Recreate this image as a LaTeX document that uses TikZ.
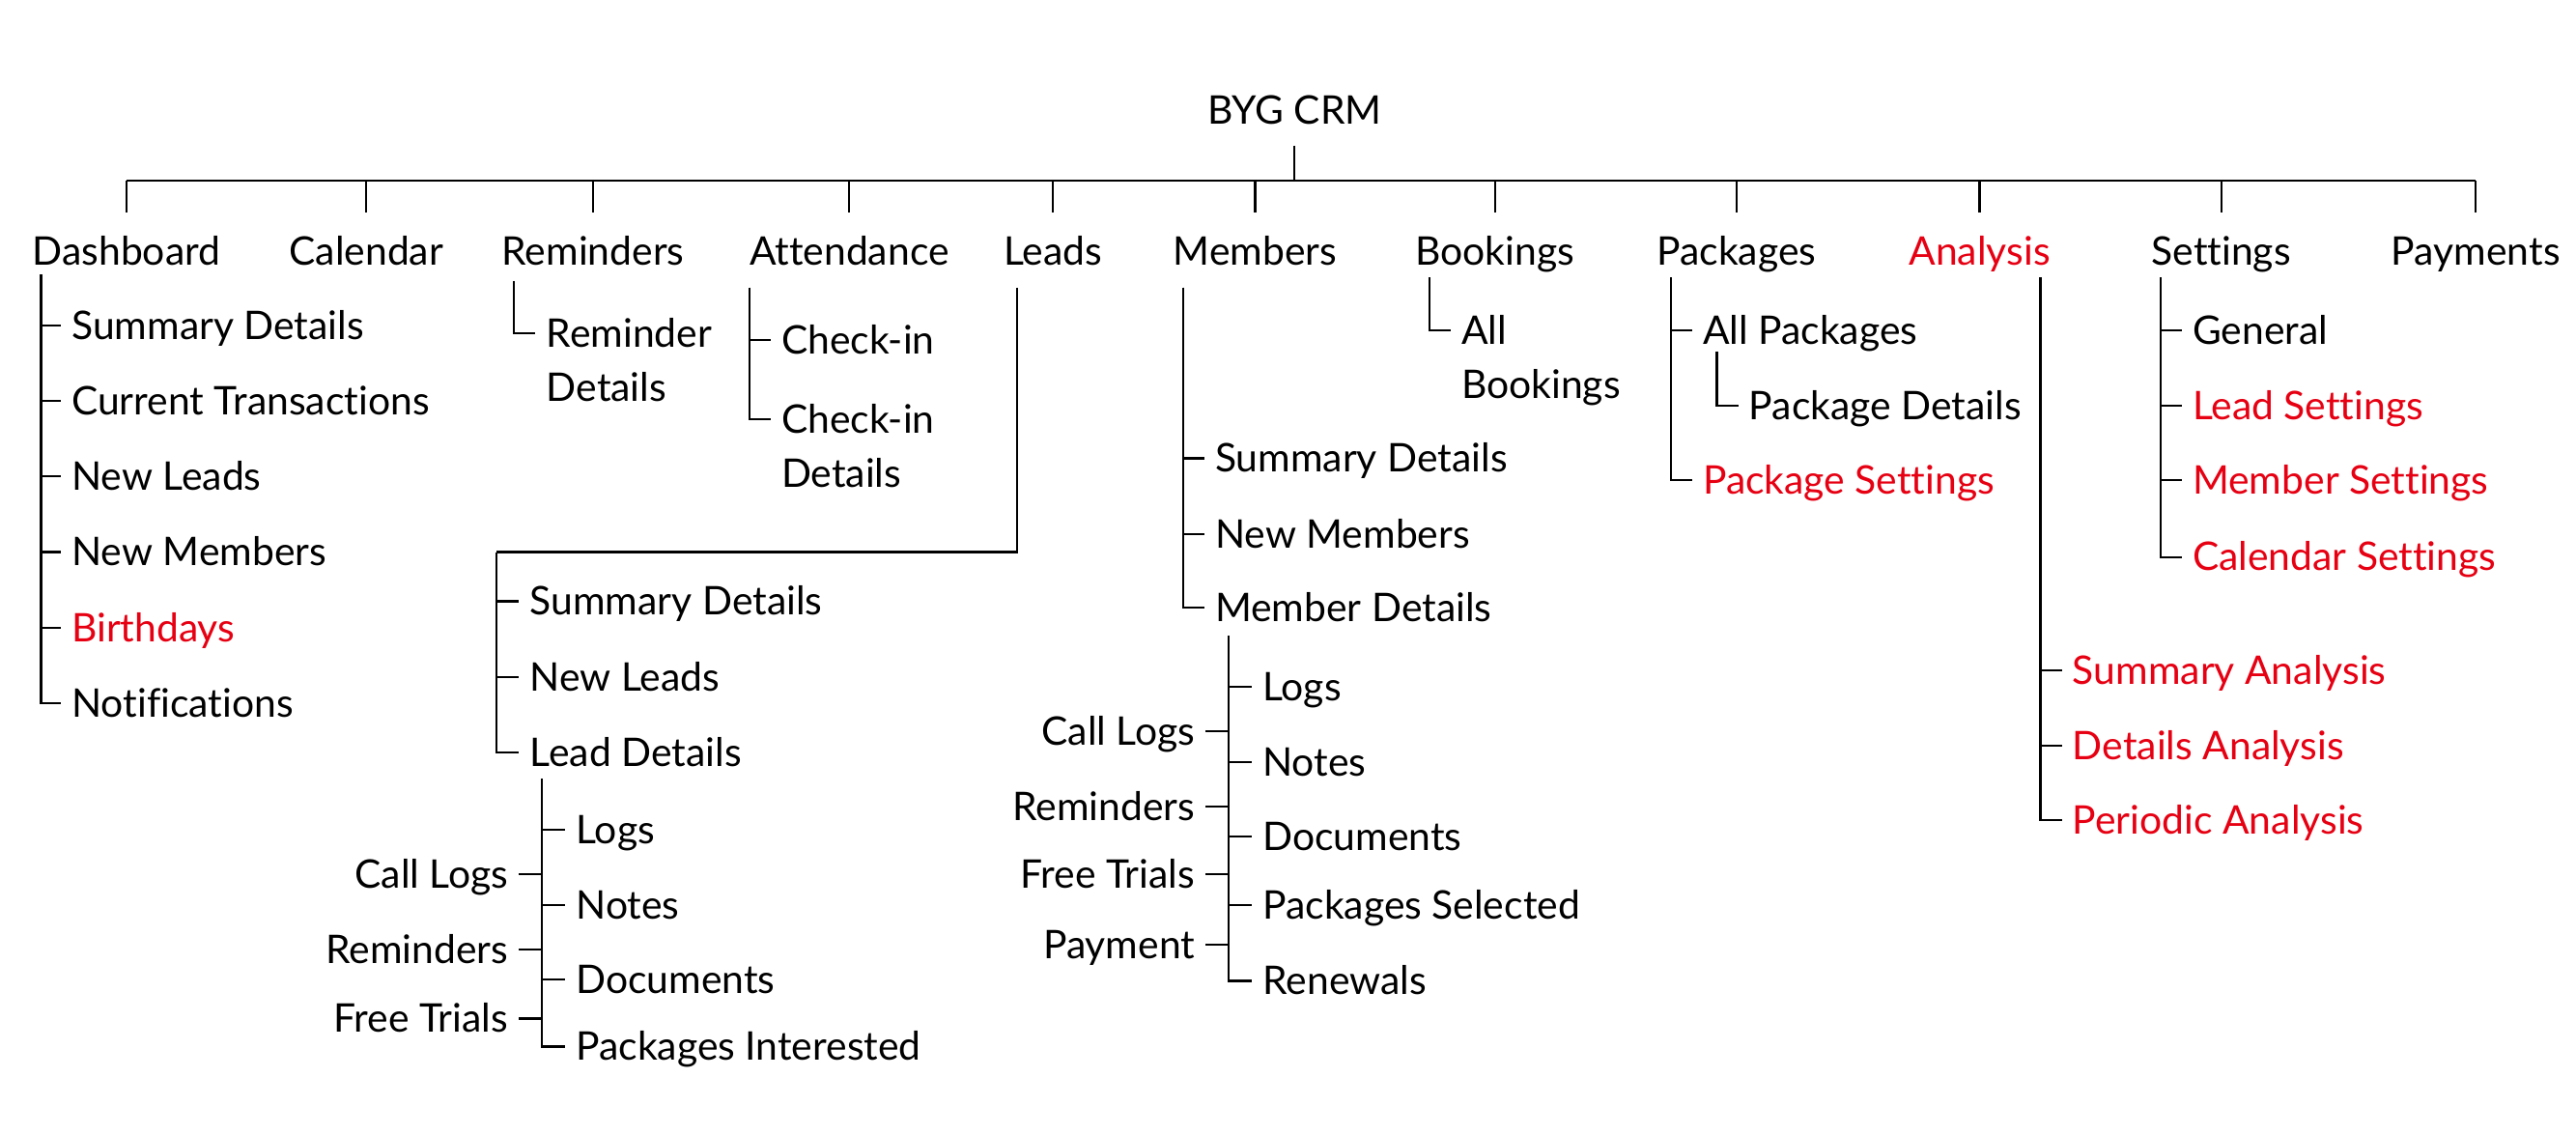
\documentclass[tikz,border=0pt]{standalone}
\usepackage{fontspec}
\setmainfont{Lato}[Ligatures=NoCommon]
\usetikzlibrary{calc}
\definecolor{crmred}{RGB}{230,0,18}
\newcommand{\lbl}{\fontsize{24pt}{33pt}\selectfont}
\newcommand{\twoline}[2]{\begin{tabular}[t]{@{}l@{}}#1\\#2\end{tabular}}
\tikzset{
  menu/.style={font=\lbl, text height=16.9pt, text depth=0pt, inner xsep=0pt, inner ysep=14.6pt},
  leaf/.style={font=\lbl, anchor=west, text height=16.9pt, text depth=0pt, inner xsep=6pt, inner ysep=0pt},
  leftleaf/.style={leaf, anchor=east},
  pending/.style={text=crmred},
  link/.style={line width=1.3pt},
}

\begin{document}
\begin{tikzpicture}[x=1pt,y=-1pt,link]
\useasboundingbox (0,0) rectangle (1568,690.2);

% root and main menu
\node[menu, inner ysep=12.5pt] (root) at (788,67) {BYG CRM};
\coordinate (bus) at (788,110);
\node[menu] (dash) at (77,153) {Dashboard};
\node[menu] (cal) at (223,153) {Calendar};
\node[menu] (rem) at (361,153) {Reminders};
\node[menu] (att) at (517,153) {Attendance};
\node[menu] (lead) at (641,153) {Leads};
\node[menu] (mem) at (764,153) {Members};
\node[menu] (book) at (910,153) {Bookings};
\node[menu] (pack) at (1057,153) {Packages};
\node[menu,pending] (ana) at (1205,153) {Analysis};
\node[menu] (set) at (1352,153) {Settings};
\node[menu] (pay) at (1507,153) {Payments};

\draw (root.south) -- (root |- bus);
\draw (dash |- bus) -- (pay |- bus);
\foreach \n in {dash,cal,rem,att,lead,mem,book,pack,ana,set,pay}
  \draw (\n |- bus) -- (\n.north);

% dashboard
\coordinate (dbs) at (25,167);
\node[leaf] (db1) at (37,198) {Summary Details};
\node[leaf] (db2) at (37,244) {Current Transactions};
\node[leaf] (db3) at (37,290) {New Leads};
\node[leaf] (db4) at (37,336) {New Members};
\node[leaf,pending] (db5) at (37,382) {Birthdays};
\node[leaf] (db6) at (37,428) {Notifications};
\foreach \c in {db1,db2,db3,db4,db5,db6}
  \draw (dbs) |- (\c.west);

% reminders
\coordinate (rms) at (313,171);
\node[leaf] (rm1) at (326,203) {\twoline{Reminder}{Details}};
\draw (rms) |- (rm1.west);

% attendance
\coordinate (ats) at (456,175);
\node[leaf] (at1) at (469,207) {Check-in};
\node[leaf] (at2) at (469,255) {\twoline{Check-in}{Details}};
\foreach \c in {at1,at2}
  \draw (ats) |- (\c.west);

% leads
\coordinate (lds) at (619,175);
\coordinate (ldj) at (302,336);
\draw (lds) |- (ldj);
\node[leaf] (ld1) at (316,366) {Summary Details};
\node[leaf] (ld2) at (316,412) {New Leads};
\node[leaf] (ld3) at (316,458) {Lead Details};
\foreach \c in {ld1,ld2,ld3}
  \draw (ldj) |- (\c.west);

% lead details
\coordinate (lls) at (330,474);
\node[leaf] (ll1) at (344,505) {Logs};
\node[leaf] (ll2) at (344,551) {Notes};
\node[leaf] (ll3) at (344,596) {Documents};
\node[leaf] (ll4) at (344,637) {Packages Interested};
\node[leftleaf] (ll5) at (316,532) {Call Logs};
\node[leftleaf] (ll6) at (316,578) {Reminders};
\node[leftleaf] (ll7) at (316,620) {Free Trials};
\foreach \c in {ll1,ll2,ll3,ll4}
  \draw (lls) |- (\c.west);
\foreach \c in {ll5,ll6,ll7}
  \draw (\c.east) -- (\c.east -| lls);

% members
\coordinate (mbs) at (720,175);
\node[leaf] (mb1) at (733,279) {Summary Details};
\node[leaf] (mb2) at (733,325) {New Members};
\node[leaf] (mb3) at (733,370) {Member Details};
\foreach \c in {mb1,mb2,mb3}
  \draw (mbs) |- (\c.west);

% member details
\coordinate (mms) at (748,387);
\node[leaf] (mm1) at (762,418) {Logs};
\node[leaf] (mm2) at (762,464) {Notes};
\node[leaf] (mm3) at (762,509) {Documents};
\node[leaf] (mm4) at (762,551) {Packages Selected};
\node[leaf] (mm5) at (762,597) {Renewals};
\node[leftleaf] (mm6) at (734,445) {Call Logs};
\node[leftleaf] (mm7) at (734,491) {Reminders};
\node[leftleaf] (mm8) at (734,532) {Free Trials};
\node[leftleaf] (mm9) at (734,575) {Payment};
\foreach \c in {mm1,mm2,mm3,mm4,mm5}
  \draw (mms) |- (\c.west);
\foreach \c in {mm6,mm7,mm8,mm9}
  \draw (\c.east) -- (\c.east -| mms);

% bookings
\coordinate (bks) at (870,169);
\node[leaf] (bk1) at (883,201) {\twoline{All}{Bookings}};
\draw (bks) |- (bk1.west);

% packages
\coordinate (pks) at (1017,169);
\node[leaf] (pk1) at (1030,201) {All Packages};
\node[leaf,pending] (pk2) at (1030,292) {Package Settings};
\foreach \c in {pk1,pk2}
  \draw (pks) |- (\c.west);
\coordinate (pas) at (1045,214);
\node[leaf] (pa1) at (1058,247) {Package Details};
\draw (pas) |- (pa1.west);

% analysis
\coordinate (ans) at (1242,169);
\node[leaf,pending] (an1) at (1255,408) {Summary Analysis};
\node[leaf,pending] (an2) at (1255,454) {Details Analysis};
\node[leaf,pending] (an3) at (1255,499) {Periodic Analysis};
\foreach \c in {an1,an2,an3}
  \draw (ans) |- (\c.west);

% settings
\coordinate (sts) at (1315,169);
\node[leaf] (st1) at (1328,201) {General};
\node[leaf,pending] (st2) at (1328,247) {Lead Settings};
\node[leaf,pending] (st3) at (1328,292) {Member Settings};
\node[leaf,pending] (st4) at (1328,339) {Calendar Settings};
\foreach \c in {st1,st2,st3,st4}
  \draw (sts) |- (\c.west);

\end{tikzpicture}
\end{document}
